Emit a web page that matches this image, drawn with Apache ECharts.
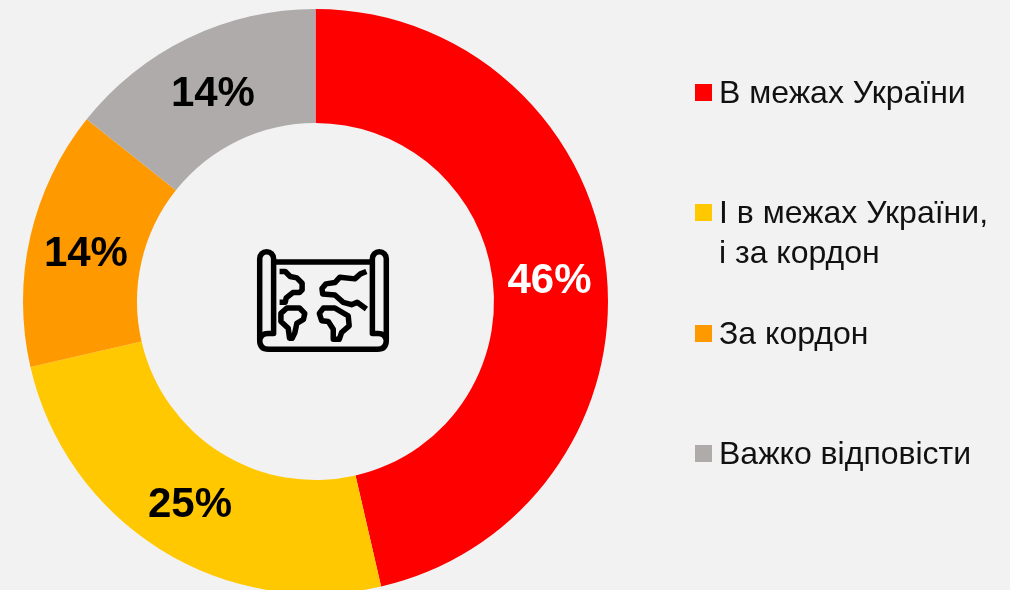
<!DOCTYPE html>
<html>
<head>
<meta charset="utf-8">
<style>
  html, body { margin: 0; padding: 0; background: #f2f2f2; }
  #chart { width: 1010px; height: 590px; }
</style>
<script src="https://cdn.jsdelivr.net/npm/echarts@6/dist/echarts.min.js"></script>
</head>
<body>
<div id="chart"></div>
<script>
// slice sizes, labels print them rounded
const categories = ['В межах України', 'І в межах України,', 'За кордон', 'Важко відповісти'];
const values = [46.4, 25, 14.3, 14.3];
const colors = ['#ff0000', '#ffc800', '#ff9900', '#afabab'];
const legendTops = [74.5, 194.5, 315.5, 435.5];
const labelNudges = [[-3, 7], [1, 2], [3, 6], [1, 8]];
const FONT = '"Liberation Sans", Arial, sans-serif';

// map icon in the middle of the ring
const iconPath = [
  'M58 75 L58 318 Q58 345 85 345 L413 345 Q440 345 440 318 L440 75 A21 21 0 0 0 398 75 L398 298 L415 298 Q436 298 440 318',
  'M100 75 A21 21 0 0 0 58 75',
  'M100 75 L100 298 L83 298 Q62 298 58 318',
  'M100 85 L398 85',
  'M118 113 L135 113 L150 128 L170 132 L186 148 L186 168 L178 176 L158 176 L138 192 L135 205 L118 205',
  'M140 222 L178 222 L194 238 L190 256 L170 268 L164 296 L156 312 L148 312 L144 282 L122 262 L122 238 Z',
  'M380 113 L362 120 L345 135 L300 130 L285 146 L258 150 L246 164 L248 180 L285 183 L310 205 L335 212 L352 205 L380 225',
  'M238 238 L250 222 L285 222 L325 245 L328 275 L305 295 L298 315 L280 315 L280 285 L265 262 L245 260 Z'
].join(' ');

const chart = echarts.init(document.getElementById('chart'), null, { renderer: 'canvas' });

chart.setOption({
  animation: false,
  backgroundColor: '#f2f2f2',
  color: colors,
  legend: categories.map((name, i) => ({
    left: 695,
    top: legendTops[i],
    padding: 0,
    data: [name],
    selectedMode: false,
    icon: 'rect',
    itemWidth: 17,
    itemHeight: 17,
    formatter: n => '{t|' + n + '}',
    textStyle: {
      rich: {
        t: { fontFamily: FONT, fontSize: 32, lineHeight: 40, padding: [4, 0, 0, 2], color: '#111111' }
      }
    }
  })),
  graphic: [
    {
      type: 'text',
      left: 719,
      top: 238,
      style: { text: 'і за кордон', font: '32px ' + FONT, fill: '#111111' }
    }
  ],
  series: [{
    type: 'pie',
    center: [315.5, 301.5],
    radius: [178.5, 292.5],
    startAngle: 90,
    clockwise: true,
    silent: true,
    avoidLabelOverlap: false,
    labelLine: { show: false },
    data: categories.map((name, i) => ({
      name: name,
      value: values[i],
      label: { color: i === 0 ? '#ffffff' : '#000000' }
    })),
    label: {
      show: true,
      position: 'inside',
      formatter: p => Math.round(p.value) + '%',
      fontFamily: FONT,
      fontWeight: 'bold',
      fontSize: 42
    },
    labelLayout: p => ({ dx: labelNudges[p.dataIndex][0], dy: labelNudges[p.dataIndex][1] })
  }, {
    // the graphic component has no path type, a custom series does
    type: 'custom',
    coordinateSystem: 'none',
    silent: true,
    data: [0],
    renderItem: () => ({
      type: 'path',
      shape: {
        pathData: iconPath,
        layout: 'cover',
        x: 259.7,
        y: 251.7,
        width: 126.6,
        height: 97.6
      },
      style: { fill: null, stroke: '#000000', lineWidth: 5.5, lineJoin: 'round' }
    })
  }]
});
</script>
</body>
</html>
